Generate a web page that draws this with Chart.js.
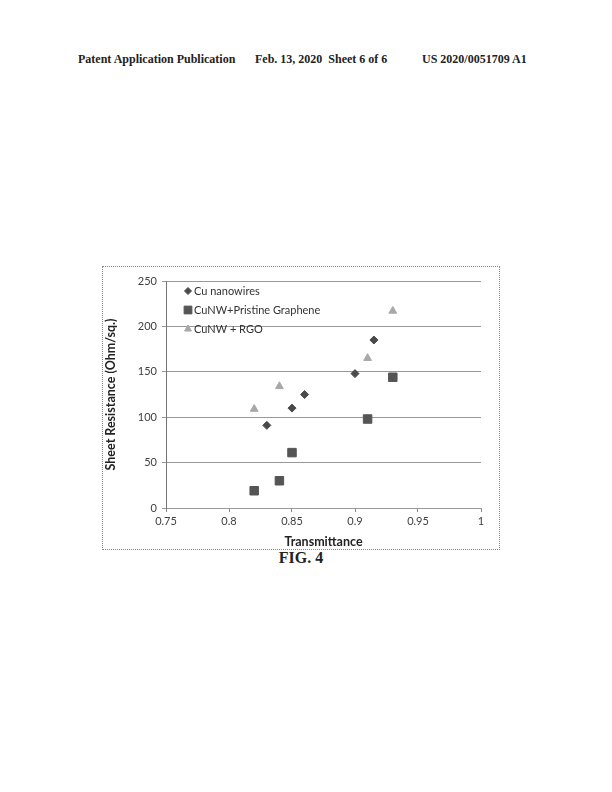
<!DOCTYPE html>
<html>
<head>
<meta charset="utf-8">
<script src="https://cdn.jsdelivr.net/npm/chart.js@4"></script>
<style>
  body { margin: 0; width: 612px; height: 792px; background: #fff; position: relative; font-family: "Liberation Serif", serif; }
  .hdr { position: absolute; top: 52px; font-weight: bold; font-size: 12px; color: #222; white-space: nowrap; }
  #box { position: absolute; left: 102px; top: 266px; width: 396px; height: 282px; border: 1px dotted #888; }
  #box canvas { position: absolute; left: 0; top: 0; }
  #fig { position: absolute; left: 0; width: 602px; top: 549px; text-align: center; font-weight: bold; font-size: 16px; color: #222; }
</style>
</head>
<body>
<div class="hdr" style="left:78px">Patent Application Publication</div>
<div class="hdr" style="left:255px">Feb. 13, 2020&nbsp;&nbsp;Sheet 6 of 6</div>
<div class="hdr" style="left:422px">US 2020/0051709 A1</div>
<div id="box"><canvas id="chart" width="396" height="282"></canvas></div>
<div id="fig">FIG. 4</div>
<script>
// data
const cuNwX = [0.83, 0.85, 0.86, 0.90, 0.915];
const cuNwY = [91, 110, 125, 148, 185];
const pristineX = [0.82, 0.84, 0.85, 0.91, 0.93];
const pristineY = [19, 30, 61, 98, 144];
const rgoX = [0.82, 0.84, 0.91, 0.93];
const rgoY = [109, 134, 165, 217];
const seriesNames = ['Cu nanowires', 'CuNW+Pristine Graphene', 'CuNW + RGO'];
const xTicks = [0.75, 0.8, 0.85, 0.9, 0.95, 1];
const yTicks = [0, 50, 100, 150, 200, 250];

const pts = (xs, ys) => xs.map((x, i) => ({ x: x, y: ys[i] }));
const chartFont = { family: 'Lato', size: 11 };

// legend drawn inside the plot, stacked top-left
const insideLegend = {
    id: 'insideLegend',
    afterDatasetsDraw(chart) {
        const ctx = chart.ctx;
        const a = chart.chartArea;
        ctx.save();
        ctx.font = '11px Lato';
        ctx.textBaseline = 'middle';
        chart.data.datasets.forEach((ds, i) => {
            const y = a.top + 10 + i * 19;
            const x = a.left + 22;
            ctx.fillStyle = ds.backgroundColor;
            ctx.strokeStyle = ds.borderColor;
            Chart.helpers.drawPoint(ctx, {
                pointStyle: ds.pointStyle, radius: ds.pointRadius - 0.5, borderWidth: 1, rotation: 0
            }, x, y);
            ctx.fillStyle = '#333';
            ctx.fillText(ds.label, x + 6, y);
        });
        ctx.restore();
    }
};

new Chart(document.getElementById('chart'), {
    type: 'scatter',
    data: {
        datasets: [{
            label: seriesNames[0],
            data: pts(cuNwX, cuNwY),
            pointStyle: 'rectRot',
            pointRadius: 4,
            backgroundColor: '#4a4a4a',
            borderColor: '#4a4a4a'
        }, {
            label: seriesNames[1],
            data: pts(pristineX, pristineY),
            pointStyle: 'rect',
            pointRadius: 6,
            backgroundColor: '#555555',
            borderColor: '#555555'
        }, {
            label: seriesNames[2],
            data: pts(rgoX, rgoY),
            pointStyle: 'triangle',
            pointRadius: 4.5,
            backgroundColor: '#a8a8a8',
            borderColor: '#a8a8a8'
        }]
    },
    options: {
        responsive: false,
        animation: false,
        layout: { padding: { top: 14, right: 18, left: 0, bottom: 0 } },
        plugins: { legend: { display: false }, tooltip: { enabled: false } },
        scales: {
            x: {
                type: 'linear',
                min: 0.75, max: 1,
                afterBuildTicks: s => { s.ticks = xTicks.map(v => ({ value: v })); },
                afterFit: s => { s.height = 41; },
                grid: { drawOnChartArea: false, tickLength: 4, color: '#888' },
                border: { color: '#999', dash: [1, 1] },
                ticks: { font: chartFont, color: '#404040', padding: 3, callback: v => String(v) },
                title: { display: true, text: 'Transmittance', font: { family: 'Lato', size: 12.5, weight: 'bold' }, color: '#222', padding: { top: 2, bottom: 0 } }
            },
            y: {
                min: 0, max: 250,
                afterBuildTicks: s => { s.ticks = yTicks.map(v => ({ value: v })); },
                afterFit: s => { s.width = 63; },
                grid: { color: '#999', tickLength: 4 },
                border: { color: '#777' },
                ticks: { font: chartFont, color: '#404040', padding: 5 },
                title: { display: true, text: 'Sheet Resistance (Ohm/sq.)', font: { family: 'Lato', size: 12.5, weight: 'bold' }, color: '#222', padding: { top: 0, bottom: 4 } }
            }
        }
    },
    plugins: [insideLegend]
});
</script>
</body>
</html>
